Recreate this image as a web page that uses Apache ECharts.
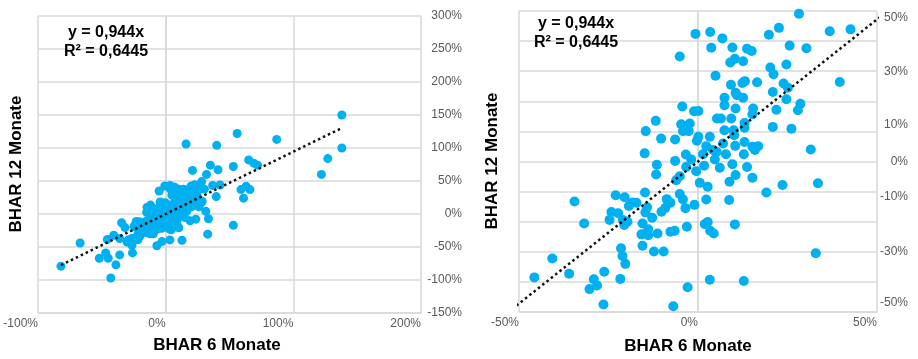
<!DOCTYPE html>
<html>
<head>
<meta charset="utf-8">
<script src="https://cdn.jsdelivr.net/npm/echarts@6/dist/echarts.min.js"></script>
<style>
  html, body { margin: 0; padding: 0; background: #fff; }
  #main { width: 918px; height: 359px; }
</style>
</head>
<body>
<div id="main"></div>
<script>
// BHAR 6 Monate (x) und BHAR 12 Monate (y), in Prozent
var bhar6 = [
  28.2, 22.6, 19.8, 36.8, 42.6, -0.7, 3.4, 6.8, 3.7, 9.6, 13.7, 15.0, 25.6, 30.3, -5.1, 10.3, 9.0, 12.6, 20.2, 21.1,
  24.7, 4.9, 9.2, 12.4, 13.1, 16.5, 23.9, 25.1, 39.6, 20.9, 10.5, 10.9, 12.6, 7.4, 24.7, 7.4, -4.4, -1.1, 0.1, 10.5,
  15.4, 15.2, 28.6, 27.9, 21.9, -11.8, 5.3, 6.4, 9.3, 13.0, -4.7, -2.3, -4.2, -2.6, -14.6, 7.4, 10.0, 13.0, 20.9, 26.1,
  -10.3, -6.4, 0.1, 3.3, -0.3, 2.3, 7.0, 10.1, 10.4, 13.0, 15.2, 16.8, 15.9, 31.5, 4.2, 5.2, -14.9, -3.4, -1.9, 1.4,
  4.7, 7.8, 12.8, -6.4, -11.5, 1.7, 6.1, 9.6, 13.7, -11.7, -3.3, -0.5, 10.5, 15.2, -5.1, -6.1, 0.5, 2.7, 8.8, 23.6,
  33.5, 19.1, -14.8, -23.0, -20.5, -34.5, -18.3, -17.2, -19.3, -8.7, -7.7, -5.1, -4.2, -1.0, 2.3, 8.7, -14.2, -14.7, -10.2, -9.1,
  -3.5, -24.2, -22.3, -24.7, -21.0, -20.6, -19.7, -12.8, -31.8, -15.5, -13.9, -15.8, -13.9, -11.3, -7.7, -6.5, -3.1, 1.9, 2.7, 3.4,
  4.4, 10.3, -15.5, -21.5, -21.1, -20.3, -12.3, -9.6, -40.7, 32.9, -45.7, -36.0, -29.1, -28.2, -30.3, -26.2, -21.7, 3.3, 12.8, -2.9,
  -26.4, -6.9,
  138, 138, 127, 122, 87, 56, 16, 40, 65, 69, 72, 53, 35, 41, 21, 32, 59, 63, 66, 61,
  53, -82, -67, -43, -39, -52, -47, -45, -36, -26
];
var bhar12 = [
  49.1, 44.4, 42.1, 43.3, 43.9, 42.4, 43.0, 40.9, 37.8, 37.9, 37.5, 36.7, 38.5, 37.6, 34.9, 34.1, 32.9, 33.3, 31.2, 29.0,
  32.2, 28.5, 25.5, 26.1, 26.7, 26.3, 25.9, 24.5, 26.4, 23.1, 22.8, 22.0, 21.2, 21.2, 20.7, 18.7, 18.3, 16.7, 16.8, 17.6,
  17.6, 15.7, 19.2, 17.0, 17.2, 13.5, 14.3, 14.3, 14.3, 12.8, 12.4, 12.6, 10.1, 10.1, 10.1, 10.4, 10.4, 11.2, 11.5, 10.9,
  7.6, 7.3, 8.2, 8.2, 6.9, 5.1, 6.0, 8.7, 5.2, 6.5, 4.9, 5.1, 3.8, 4.0, 3.8, 3.2, 2.7, 2.3, 0.7, 2.4,
  0.7, 2.4, 2.4, 0.2, -1.1, -1.4, -2.1, -0.9, -1.8, -4.3, -1.8, -3.2, -4.5, -5.4, -4.9, -6.2, -7.1, -8.4, -6.7, -7.8,
  -7.2, -10.3, -10.3, -11.2, -11.9, -13.3, -13.6, -13.7, -14.8, -12.5, -13.7, -10.8, -12.6, -14.4, -12.6, -12.8, -15.2, -16.9, -16.7, -15.4,
  -15.5, -16.8, -17.2, -19.4, -19.4, -21.1, -20.0, -18.7, -20.6, -20.6, -22.5, -24.2, -24.5, -23.9, -23.3, -23.0, -21.7, -20.8, -20.1, -23.0,
  -23.9, -20.9, -28.0, -28.8, -31.4, -34.0, -29.9, -29.9, -32.2, -30.5, -38.5, -37.3, -39.1, -41.2, -42.4, -36.6, -39.0, -39.3, -39.7, -41.8,
  -47.5, -48.1,
  150, 100, 84, 60, 113, 122, 106, 104, 82, 77, 74, 72, 74, 67, 66, 60, 37, 42, 37, 24,
  -17, -79, -44, -97, -77, -67, -59, -67, -62, -59
];
var slope = 0.944;
var eqLine = 'y = 0,944x';
var r2Line = 'R² = 0,6445';
var xTitle = 'BHAR 6 Monate';
var yTitle = 'BHAR 12 Monate';
// Beschriftete Ticks der rechten Y-Achse (Ausschnitt)
var zoomYLabels = [50, 30, 10, 0, -10, -30, -50];

var myChart = echarts.init(document.getElementById('main'));

var points = bhar6.map(function (x, i) { return [x, bhar12[i]]; });
var xMin = Math.min.apply(null, bhar6);
var xMax = Math.max.apply(null, bhar6);
var trend = [[xMin, slope * xMin], [xMax, slope * xMax]];

var FONT = '"Liberation Sans", Arial, sans-serif';
var gridLine = { show: true, lineStyle: { color: '#d9d9d9', width: 1.5 } };
var labelStyle = { color: '#595959', fontSize: 12, fontFamily: FONT };

function xAxisOf(gi, min, max, step) {
  return {
    type: 'value', gridIndex: gi, min: min, max: max, interval: step,
    axisLine: { show: true, onZero: false, lineStyle: { color: '#d9d9d9', width: 1.5 } },
    axisTick: { show: false },
    splitLine: gridLine,
    axisLabel: Object.assign({ margin: 5, align: 'right', formatter: '{value}%' }, labelStyle)
  };
}

// Excel-artige Verschiebung der Beschriftungen rechts
var shift = { '50': 'dn7', '10': 'up7', '-10': 'dn5', '-50': 'up9' };

myChart.setOption({
  backgroundColor: '#fff',
  animation: false,
  grid: [
    { left: 38, top: 16, width: 383, height: 297 },
    { left: 519, top: 11, width: 358, height: 301 }
  ],
  xAxis: [xAxisOf(0, -100, 200, 100), xAxisOf(1, -50, 50, 50)],
  yAxis: [
    {
      type: 'value', gridIndex: 0, position: 'right', min: -150, max: 300, interval: 50,
      axisLine: { show: true, lineStyle: { color: '#d9d9d9', width: 1.5 } },
      axisTick: { show: false },
      splitLine: gridLine,
      axisLabel: Object.assign({ margin: 41, align: 'right', formatter: '{value}%' }, labelStyle)
    },
    {
      type: 'value', gridIndex: 1, position: 'right', min: -50, max: 50, interval: 10,
      axisLine: { show: true, lineStyle: { color: '#d9d9d9', width: 1.5 } },
      axisTick: { show: false },
      splitLine: gridLine,
      axisLabel: Object.assign({
        margin: 31, align: 'right',
        formatter: function (v) {
          if (zoomYLabels.indexOf(v) < 0) return '';
          var s = shift[String(v)];
          return s ? '{' + s + '|' + v + '%}' : v + '%';
        },
        rich: {
          dn7: { padding: [14, 0, 0, 0], color: '#595959', fontSize: 12, fontFamily: FONT },
          up7: { padding: [0, 0, 14, 0], color: '#595959', fontSize: 12, fontFamily: FONT },
          dn5: { padding: [10, 0, 0, 0], color: '#595959', fontSize: 12, fontFamily: FONT },
          up9: { padding: [0, 0, 18, 0], color: '#595959', fontSize: 12, fontFamily: FONT }
        }
      }, labelStyle)
    }
  ],
  series: [
    {
      type: 'scatter', xAxisIndex: 0, yAxisIndex: 0, data: points,
      symbolSize: 9, itemStyle: { color: '#00b0f0', opacity: 1 }, z: 2
    },
    {
      type: 'line', xAxisIndex: 0, yAxisIndex: 0, data: trend, symbol: 'none',
      lineStyle: { color: '#111', width: 2.5, type: [2.5, 3] }, z: 3
    },
    {
      type: 'scatter', xAxisIndex: 1, yAxisIndex: 1, data: points, clip: true,
      symbolSize: 10, itemStyle: { color: '#00b0f0', opacity: 1 }, z: 2
    },
    {
      type: 'line', xAxisIndex: 1, yAxisIndex: 1, data: trend, symbol: 'none', clip: true,
      lineStyle: { color: '#111', width: 2.5, type: [2.5, 3] }, z: 3
    }
  ],
  graphic: [
    { type: 'text', x: 106, y: 33, z: 10, style: { text: eqLine, font: 'bold 16px ' + FONT, fill: '#000', textAlign: 'center', textVerticalAlign: 'middle' } },
    { type: 'text', x: 106, y: 52, z: 10, style: { text: r2Line, font: 'bold 16px ' + FONT, fill: '#000', textAlign: 'center', textVerticalAlign: 'middle' } },
    { type: 'text', x: 576, y: 24, z: 10, style: { text: eqLine, font: 'bold 16px ' + FONT, fill: '#000', textAlign: 'center', textVerticalAlign: 'middle' } },
    { type: 'text', x: 576, y: 43, z: 10, style: { text: r2Line, font: 'bold 16px ' + FONT, fill: '#000', textAlign: 'center', textVerticalAlign: 'middle' } },
    { type: 'text', x: 217, y: 345, style: { text: xTitle, font: 'bold 17px ' + FONT, fill: '#000', textAlign: 'center', textVerticalAlign: 'middle' } },
    { type: 'text', x: 688, y: 346, style: { text: xTitle, font: 'bold 17px ' + FONT, fill: '#000', textAlign: 'center', textVerticalAlign: 'middle' } },
    { type: 'text', x: 16, y: 164, rotation: Math.PI / 2, style: { text: yTitle, font: 'bold 17px ' + FONT, fill: '#000', textAlign: 'center', textVerticalAlign: 'middle' } },
    { type: 'text', x: 492, y: 161, rotation: Math.PI / 2, style: { text: yTitle, font: 'bold 17px ' + FONT, fill: '#000', textAlign: 'center', textVerticalAlign: 'middle' } }
  ]
});
</script>
</body>
</html>
